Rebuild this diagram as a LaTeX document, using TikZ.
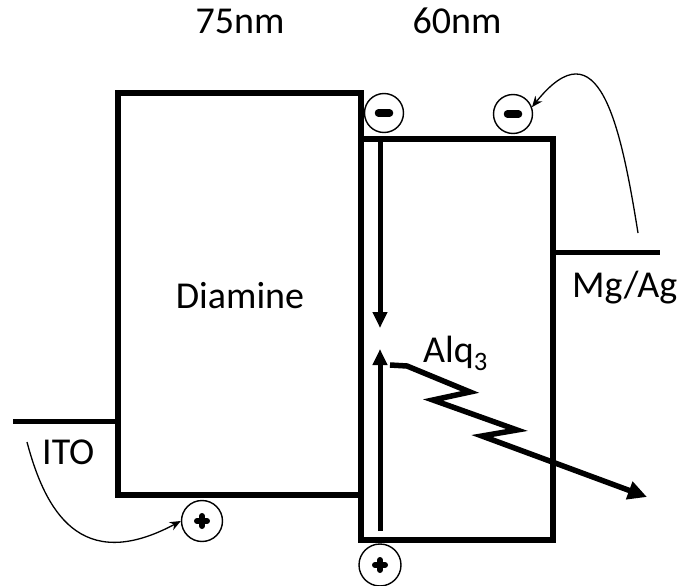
\documentclass[tikz,border=0pt]{standalone}
\usepackage{fontspec}
\setmainfont{Carlito}
\usetikzlibrary{arrows.meta}

\begin{document}
\begin{tikzpicture}[x=1pt, y=-1pt,
    layer/.style={line width=6pt},
    level/.style={line width=5pt},
    carrier/.style={line width=5pt, -{Triangle[length=16pt, width=14pt]}},
    hop/.style={line width=1.3pt, -{Stealth[length=11pt, width=9pt]}},
    charge/.style={circle, draw, line width=1.4pt, minimum size=39pt, inner sep=0pt},
    lbl/.style={inner sep=0pt, font=\fontsize{38}{46}\selectfont}]
    \useasboundingbox (0,0) rectangle (681,586);
    % the two layers
    \draw[layer] (118,93) rectangle (361,495);
    \draw[layer] (361,139) rectangle (553,540);
    \draw[level] (13,421) -- (118,421);
    \draw[level] (553,252) -- (660,252);
    \node[lbl, anchor=base] (dmn) at (240,308) {Diamine};
    \node[lbl, anchor=base] (tdmn) at (240,34) {75nm};
    \node[lbl, anchor=base] (talq) at (457,34) {60nm};
    \node[lbl, anchor=base west] (alq) at (423,362) {Alq\textsubscript{3}};
    \node[lbl, anchor=base west] (mgag) at (572,297) {Mg/Ag};
    \node[lbl, anchor=base west] (ito) at (42,464) {ITO};
    % electrons and holes
    \node[charge] (mns1) at (384,113) {};
    \node[charge] (mns2) at (513,114) {};
    \node[charge, minimum size=41pt] (pls1) at (202,521) {};
    \node[charge, minimum size=42pt] (pls2) at (380,565) {};
    \foreach \c in {mns1, mns2} {
      \draw[line width=7.5pt, line cap=round] ([xshift=-5.5pt]\c.center) -- ([xshift=5.5pt]\c.center);
    }
    \foreach \c in {pls1, pls2} {
      \draw[line width=6pt, line cap=round] ([xshift=-5pt]\c.center) -- ([xshift=5pt]\c.center);
      \draw[line width=6pt, line cap=round] ([yshift=-5pt]\c.center) -- ([yshift=5pt]\c.center);
    }
    \coordinate (etop) at (380,140);
    \coordinate (emid) at (380,328);
    \coordinate (hbot) at (380,531);
    \coordinate (hmid) at (380,349);
    \coordinate (zst) at (390,365);
    \coordinate (zend) at (647,497);
    \coordinate (inj) at (638,233);
    \coordinate (ext) at (27,442);
    \draw[carrier] (etop) -- (emid);
    \draw[carrier] (hbot) -- (hmid);
    % the emitted light
    \draw[carrier, line width=5.5pt, -{Triangle[length=19pt, width=18pt]}]
      (zst) -- (407,366) -- (470,392) -- (433,400) -- (517,430) -- (482,436) -- (zend);
    \draw[hop] (inj) .. controls (620,120) and (598,25) .. (mns2.20);
    \draw[hop] (ext) .. controls (45,510) and (80,575) .. (pls1.west);
\end{tikzpicture}
\end{document}
